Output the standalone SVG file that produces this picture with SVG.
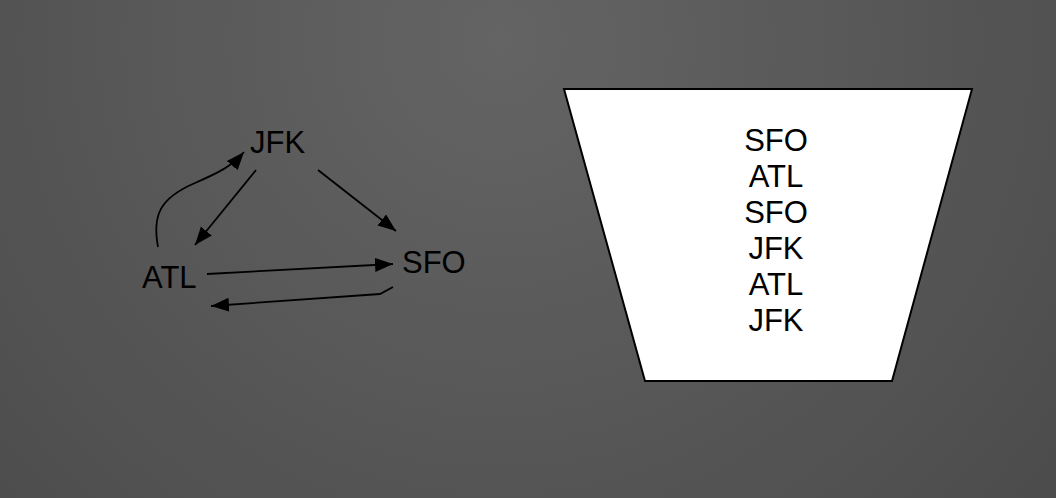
<svg xmlns="http://www.w3.org/2000/svg" width="1056" height="498" viewBox="0 0 1056 498">
<defs>
<radialGradient id="bg" gradientUnits="userSpaceOnUse" cx="500" cy="40" r="950">
<stop offset="0" stop-color="#646464"/>
<stop offset="1" stop-color="#444444"/>
</radialGradient>
<marker id="ah" markerUnits="userSpaceOnUse" markerWidth="20" markerHeight="16" refX="18" refY="7" orient="auto" viewBox="0 0 20 16">
<path d="M0,0 L18,7 L0,14 z" fill="#000"/>
</marker>
<style>
.lbl{font-family:"Liberation Sans",Arial,sans-serif;font-size:31px;fill:#000}
.stack{font-family:"Liberation Sans",Arial,sans-serif;font-size:31px;fill:#000;text-anchor:middle}
.edge{fill:none;stroke:#000;stroke-width:1.8;marker-end:url(#ah)}
</style>
</defs>
<rect width="1056" height="498" fill="url(#bg)"/>
<g id="connectors">
<path class="edge" d="M158,247 C152,215 160,198 195,183 C220,172 232,166 244,152"/>
<path class="edge" d="M256,170 L195,245"/>
<path class="edge" d="M318,170 L396,231"/>
<path class="edge" d="M207,274 L393,264"/>
<path class="edge" d="M393,287 L380,294 L211,306"/>
</g>
<g id="node-jfk"><text class="lbl" x="250" y="153">JFK</text></g>
<g id="node-atl"><text class="lbl" x="142" y="288">ATL</text></g>
<g id="node-sfo"><text class="lbl" x="402" y="273">SFO</text></g>
<g id="stack">
<polygon points="564,89 972,89 892,381 645,381" fill="#fff" stroke="#000" stroke-width="2"/>
<text class="stack" x="776" y="151">SFO</text>
<text class="stack" x="776" y="187">ATL</text>
<text class="stack" x="776" y="223">SFO</text>
<text class="stack" x="776" y="259">JFK</text>
<text class="stack" x="776" y="295">ATL</text>
<text class="stack" x="776" y="331">JFK</text>
</g>
</svg>
